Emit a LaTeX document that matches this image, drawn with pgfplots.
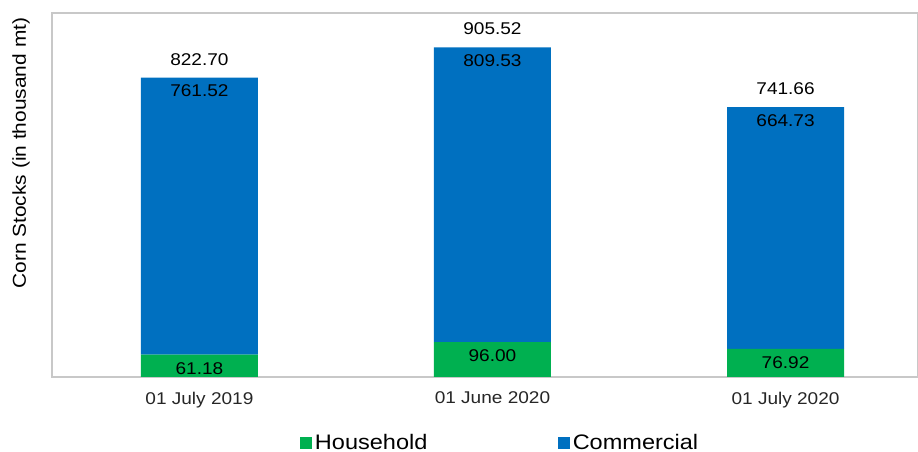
\documentclass[border=0pt]{standalone}
\usepackage{pgfplots}
\pgfplotsset{compat=1.18}
\usepackage{fontspec}
\setmainfont{Liberation Sans}[FakeStretch=1.12]
\definecolor{hhgreen}{HTML}{00B050}
\definecolor{comblue}{HTML}{0070C0}
\definecolor{frame}{HTML}{C8C8C8}
\definecolor{ticktxt}{HTML}{262626}
\pgfplotsset{
  common/.style={at={(0,0)}, anchor=south west,
    scale only axis, width=649.5pt, height=273pt,
    xmin=-0.503, xmax=2.452, ymin=0, ymax=1000},
  lab/.style={draw=none, mark=none, nodes near coords, point meta=explicit symbolic,
    every node near coord/.append style={font=\fontsize{12.75}{15}\selectfont, text=black, inner sep=0pt, #1}},
}

\begin{document}
\begin{tikzpicture}
\begin{axis}[
    common,
    ybar stacked, bar width=87.75pt,
    xtick={0,1,2},
    xticklabels={01 July 2019,01 June 2020,01 July 2020},
    ytick=\empty,
    major tick length=0pt,
    axis line style={frame, line width=1pt},
    xticklabel style={font=\fontsize{12.75}{15}\selectfont, text=ticktxt, anchor=north, inner sep=0pt, yshift=-11pt},
    ylabel={Corn Stocks (in thousand mt)},
    ylabel style={at={(axis description cs:-0.0358,0.615)}, anchor=center, font=\fontsize{14}{16}\selectfont},
    legend columns=2,
    legend style={draw=none, fill=none, at={(axis description cs:0.518,-0.181)}, anchor=center,
      font=\fontsize{15.75}{18}\selectfont,
      /tikz/every even column/.append style={column sep=96pt}},
    legend image code/.code={\fill[#1] (0pt,-4.5pt) rectangle (9pt,4.5pt);},
]
\addplot+[draw=none, fill=hhgreen] coordinates {(0,61.18) (1,96.00) (2,76.92)};
\addplot+[draw=none, fill=comblue] coordinates {(0,761.52) (1,809.53) (2,664.73)};
\legend{Household,Commercial}
\end{axis}
\begin{axis}[common, hide axis]
% household labels at top of green segment
\addplot[lab={anchor=north, yshift=-5.5pt}] coordinates {(0,61.18) [61.18] (1,96.00) [96.00] (2,76.92) [76.92]};
% commercial labels at top of stack
\addplot[lab={anchor=north, yshift=-5.5pt}] coordinates {(0,822.70) [761.52] (1,905.52) [809.53] (2,741.66) [664.73]};
% totals above the bars
\addplot[lab={anchor=south, yshift=9pt}] coordinates {(0,822.70) [822.70] (1,905.52) [905.52] (2,741.66) [741.66]};
\end{axis}
\pgfresetboundingbox
\useasboundingbox (-39pt,-56.25pt) rectangle (649.5pt,282.75pt);
\end{tikzpicture}
\end{document}
